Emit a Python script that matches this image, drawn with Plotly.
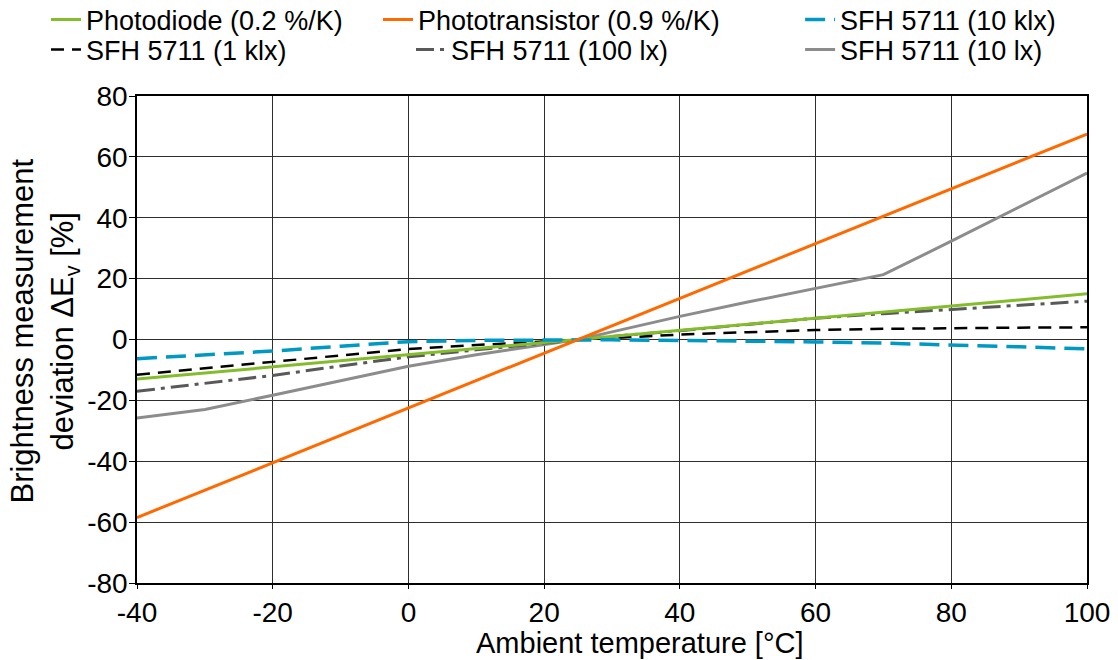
import plotly.graph_objects as go

# ---- data ----
lin_temps = [-40, -20, 0, 20, 40, 60, 80, 100]
photodiode = [-13, -9, -5, -1, 3, 7, 11, 15]
phototransistor = [-58.5, -40.5, -22.5, -4.5, 13.5, 31.5, 49.5, 67.5]

sfh_temps = [-40, -30, -20, -10, 0, 10, 20, 25, 30, 40, 50, 60, 70, 80, 90, 100]
sfh_10klx = [-6.3, -5.0, -3.8, -2.2, -0.7, -0.3, -0.1, 0, -0.1, -0.3, -0.5, -0.8, -1.2, -1.7, -2.4, -3.1]
sfh_1klx = [-11.6, -9.5, -7.4, -5.2, -3.1, -1.8, -0.6, 0, 0.6, 1.6, 2.4, 3.1, 3.5, 3.8, 3.9, 4.0]
sfh_100lx = [-17.0, -14.4, -11.8, -8.7, -5.7, -3.4, -1.1, 0, 1.0, 2.9, 5.0, 7.0, 8.5, 9.8, 11.2, 12.6]
sfh_10lx = [-25.8, -23.0, -18.3, -13.5, -8.8, -5.0, -1.5, 0, 2.5, 7.6, 12.3, 16.9, 21.3, 32.3, 43.5, 54.7]

x_ticks = [-40, -20, 0, 20, 40, 60, 80, 100]
x_ticktext = ["-40", "-20", "0", "20", "40", "60", "80", "100"]
y_ticks = [-80, -60, -40, -20, 0, 20, 40, 60, 80]
y_ticktext = ["-80", "-60", "-40", "-20", "0", "20", "40", "60", "80"]

FONT = "Liberation Sans, Arial, Helvetica, sans-serif"

fig = go.Figure()
fig.add_trace(go.Scatter(x=sfh_temps, y=sfh_10lx, mode="lines", name="SFH 5711 (10 lx)",
                         line=dict(color="#8c8c8c", width=3), legend="legend6"))
fig.add_trace(go.Scatter(x=sfh_temps, y=sfh_100lx, mode="lines", name="SFH 5711 (100 lx)",
                         line=dict(color="#595959", width=3, dash="18px,6px,4px,6px"), legend="legend5"))
fig.add_trace(go.Scatter(x=sfh_temps, y=sfh_1klx, mode="lines", name="SFH 5711 (1 klx)",
                         line=dict(color="#000000", width=2.5, dash="13px,8px"), legend="legend4"))
fig.add_trace(go.Scatter(x=lin_temps, y=photodiode, mode="lines", name="Photodiode (0.2 %/K)",
                         line=dict(color="#84bd2b", width=3), legend="legend"))
fig.add_trace(go.Scatter(x=sfh_temps, y=sfh_10klx, mode="lines", name="SFH 5711 (10 klx)",
                         line=dict(color="#0099c4", width=3.5, dash="20px,9px"), legend="legend3"))
fig.add_trace(go.Scatter(x=lin_temps, y=phototransistor, mode="lines", name="Phototransistor (0.9 %/K)",
                         line=dict(color="#ff6a00", width=3), legend="legend2"))

leg_common = dict(orientation="v", font=dict(family=FONT, size=27, color="#000"),
                  bgcolor="rgba(0,0,0,0)", yanchor="middle", xanchor="left",
                  itemwidth=30)

ROW1, ROW2 = 1.156, 1.0945

fig.update_layout(
    width=1118, height=660,
    showlegend=True,
    margin=dict(l=137, r=31, t=96, b=77, autoexpand=False),
    plot_bgcolor="white", paper_bgcolor="white",
    font=dict(family=FONT, size=27, color="#000"),
    legend=dict(x=-0.0958, y=ROW1, **leg_common),
    legend2=dict(x=0.2537, y=ROW1, **leg_common),
    legend3=dict(x=0.698, y=ROW1, **leg_common),
    legend4=dict(x=-0.0958, y=ROW2, **leg_common),
    legend5=dict(x=0.2884, y=ROW2, **leg_common),
    legend6=dict(x=0.698, y=ROW2, **leg_common),
    xaxis=dict(range=[-40, 100], tickvals=x_ticks, ticktext=x_ticktext,
               showgrid=True, gridcolor="#2e2e2e", gridwidth=1,
               zeroline=False, showline=True, linecolor="#000", linewidth=1.5,
               mirror=True, ticks="outside", ticklen=4, tickcolor="#000",
               tickfont=dict(family=FONT, size=28), automargin=False),
    yaxis=dict(range=[-80, 80], tickvals=y_ticks, ticktext=y_ticktext,
               showgrid=True, gridcolor="#2e2e2e", gridwidth=1,
               zeroline=False, showline=True, linecolor="#000", linewidth=1.5,
               mirror=True, ticks="outside", ticklen=6, tickcolor="#000",
               tickfont=dict(family=FONT, size=28), automargin=False,
               ticklabelstandoff=-4),
)

fig.add_annotation(text="Brightness measurement<br>deviation ΔE<sub>v</sub> [%]",
                   xref="paper", yref="paper", x=-0.0965, y=0.517,
                   xanchor="center", yanchor="middle", textangle=-90, showarrow=False,
                   font=dict(family=FONT, size=31, color="#000"))

fig.add_annotation(text="Ambient temperature [°C]", xref="paper", yref="paper",
                   x=0.5295, y=-0.123, xanchor="center", yanchor="middle", showarrow=False,
                   font=dict(family=FONT, size=29, color="#000"))

fig.write_html("out.html")
